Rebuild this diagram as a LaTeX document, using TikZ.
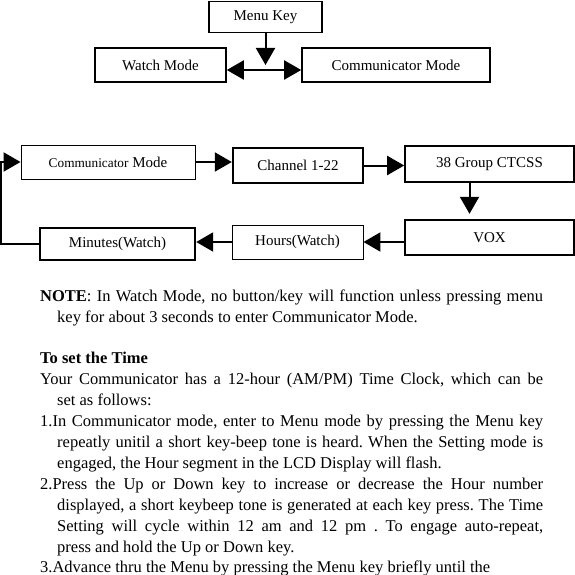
\documentclass[tikz,border=0pt]{standalone}
\usepackage{fontspec}
\setmainfont{Liberation Serif}
\usetikzlibrary{positioning, calc, arrows.meta}

\begin{document}
\begin{tikzpicture}[x=1pt, y=-1pt,
  every node/.style={inner sep=0pt},
  box/.style={draw, line width=1.6pt, font=\fontsize{15}{18}\selectfont},
  thinbox/.style={box, line width=0.9pt},
  thickbox/.style={box, line width=2.4pt},
  flow/.style={line width=2pt, -{Triangle[length=17pt,width=19pt]}},
  noteblock/.style={anchor=north west, text width=503pt, align=justify, font=\fontsize{16.5}{20.9}\selectfont}]

\useasboundingbox (0,0) rectangle (575,575);

%// top: menu key and the two modes
\node [box, minimum width=113pt, minimum height=31pt] (menu) at (265.5,17) {Menu Key};
\node [box, minimum width=131pt, minimum height=34pt] (watch) at (160.5,65) {Watch Mode};
\node [box, minimum width=188pt, minimum height=34pt] (comm) at (396,65) {Communicator Mode};

\coordinate (hub) at (265.5,70);
\draw [flow] (menu.south) -- ($(hub)+(0,-5)$);
\draw [flow, {Triangle[length=17pt,width=19pt]}-{Triangle[length=17pt,width=19pt]}] (watch.east |- hub) -- (comm.west |- hub);

%// menu loop
\node [thinbox, minimum width=174pt, minimum height=34pt] (cmode) at (108,162) {{\fontsize{13.3}{15}\selectfont Communicator} Mode};
\node [thickbox, minimum width=130pt, minimum height=35pt] (chan) at (298,165.5) {Channel 1-22};
\node [box, minimum width=169pt, minimum height=36pt] (ctcss) at (489.5,164) {38 Group CTCSS};
\node [thickbox, minimum width=169pt, minimum height=35pt] (vox) at (489.5,237.5) {VOX};
\node [thinbox, minimum width=131pt, minimum height=34pt] (hours) at (297.5,242) {Hours(Watch)};
\node [thickbox, minimum width=155pt, minimum height=32pt] (minutes) at (117.5,244) {Minutes(Watch)};

\draw [flow] (cmode.east) -- (cmode.east -| chan.west);
\draw [flow] (chan.east) -- (chan.east -| ctcss.west);
\draw [flow, shorten >=5pt] ([xshift=-20pt]ctcss.south) -- ([xshift=-20pt]vox.north);
\draw [flow] (vox.west |- hours) -- (hours.east);
\draw [flow] (hours.west) -- (hours.west -| minutes.east);
\draw [flow] (minutes.west) -- ++(-38,0) |- (cmode.west);

%// text below
\node [noteblock] (note) at (40,286.4) {\parindent=0pt \frenchspacing \hyphenpenalty=10000 \exhyphenpenalty=10000 \tolerance=10000
\strut\hangindent=17pt\hangafter=1 \textbf{NOTE}: In Watch Mode, no button/key will function unless pressing menu\linebreak key for about 3 seconds to enter Communicator Mode.\par
\mbox{}\par
\textbf{To set the Time}\par
\hangindent=17pt\hangafter=1 Your Communicator has a 12-hour (AM/PM) Time Clock, which can be\linebreak set as follows:\par
\hangindent=17pt\hangafter=1 1.In Communicator mode, enter to Menu mode by pressing the Menu key\linebreak repeatly unitil a short key-beep tone is heard. When the Setting mode is\linebreak engaged, the Hour segment in the LCD Display will flash.\par
\hangindent=17pt\hangafter=1 2.Press the Up or Down key to increase or decrease the Hour number\linebreak displayed, a short keybeep tone is generated at each key press. The Time\linebreak Setting will cycle within 12 am and 12 pm . To engage auto-repeat,\linebreak press and hold the Up or Down key.\par
3.Advance thru the Menu by pressing the Menu key briefly until the};
\end{tikzpicture}
\end{document}
